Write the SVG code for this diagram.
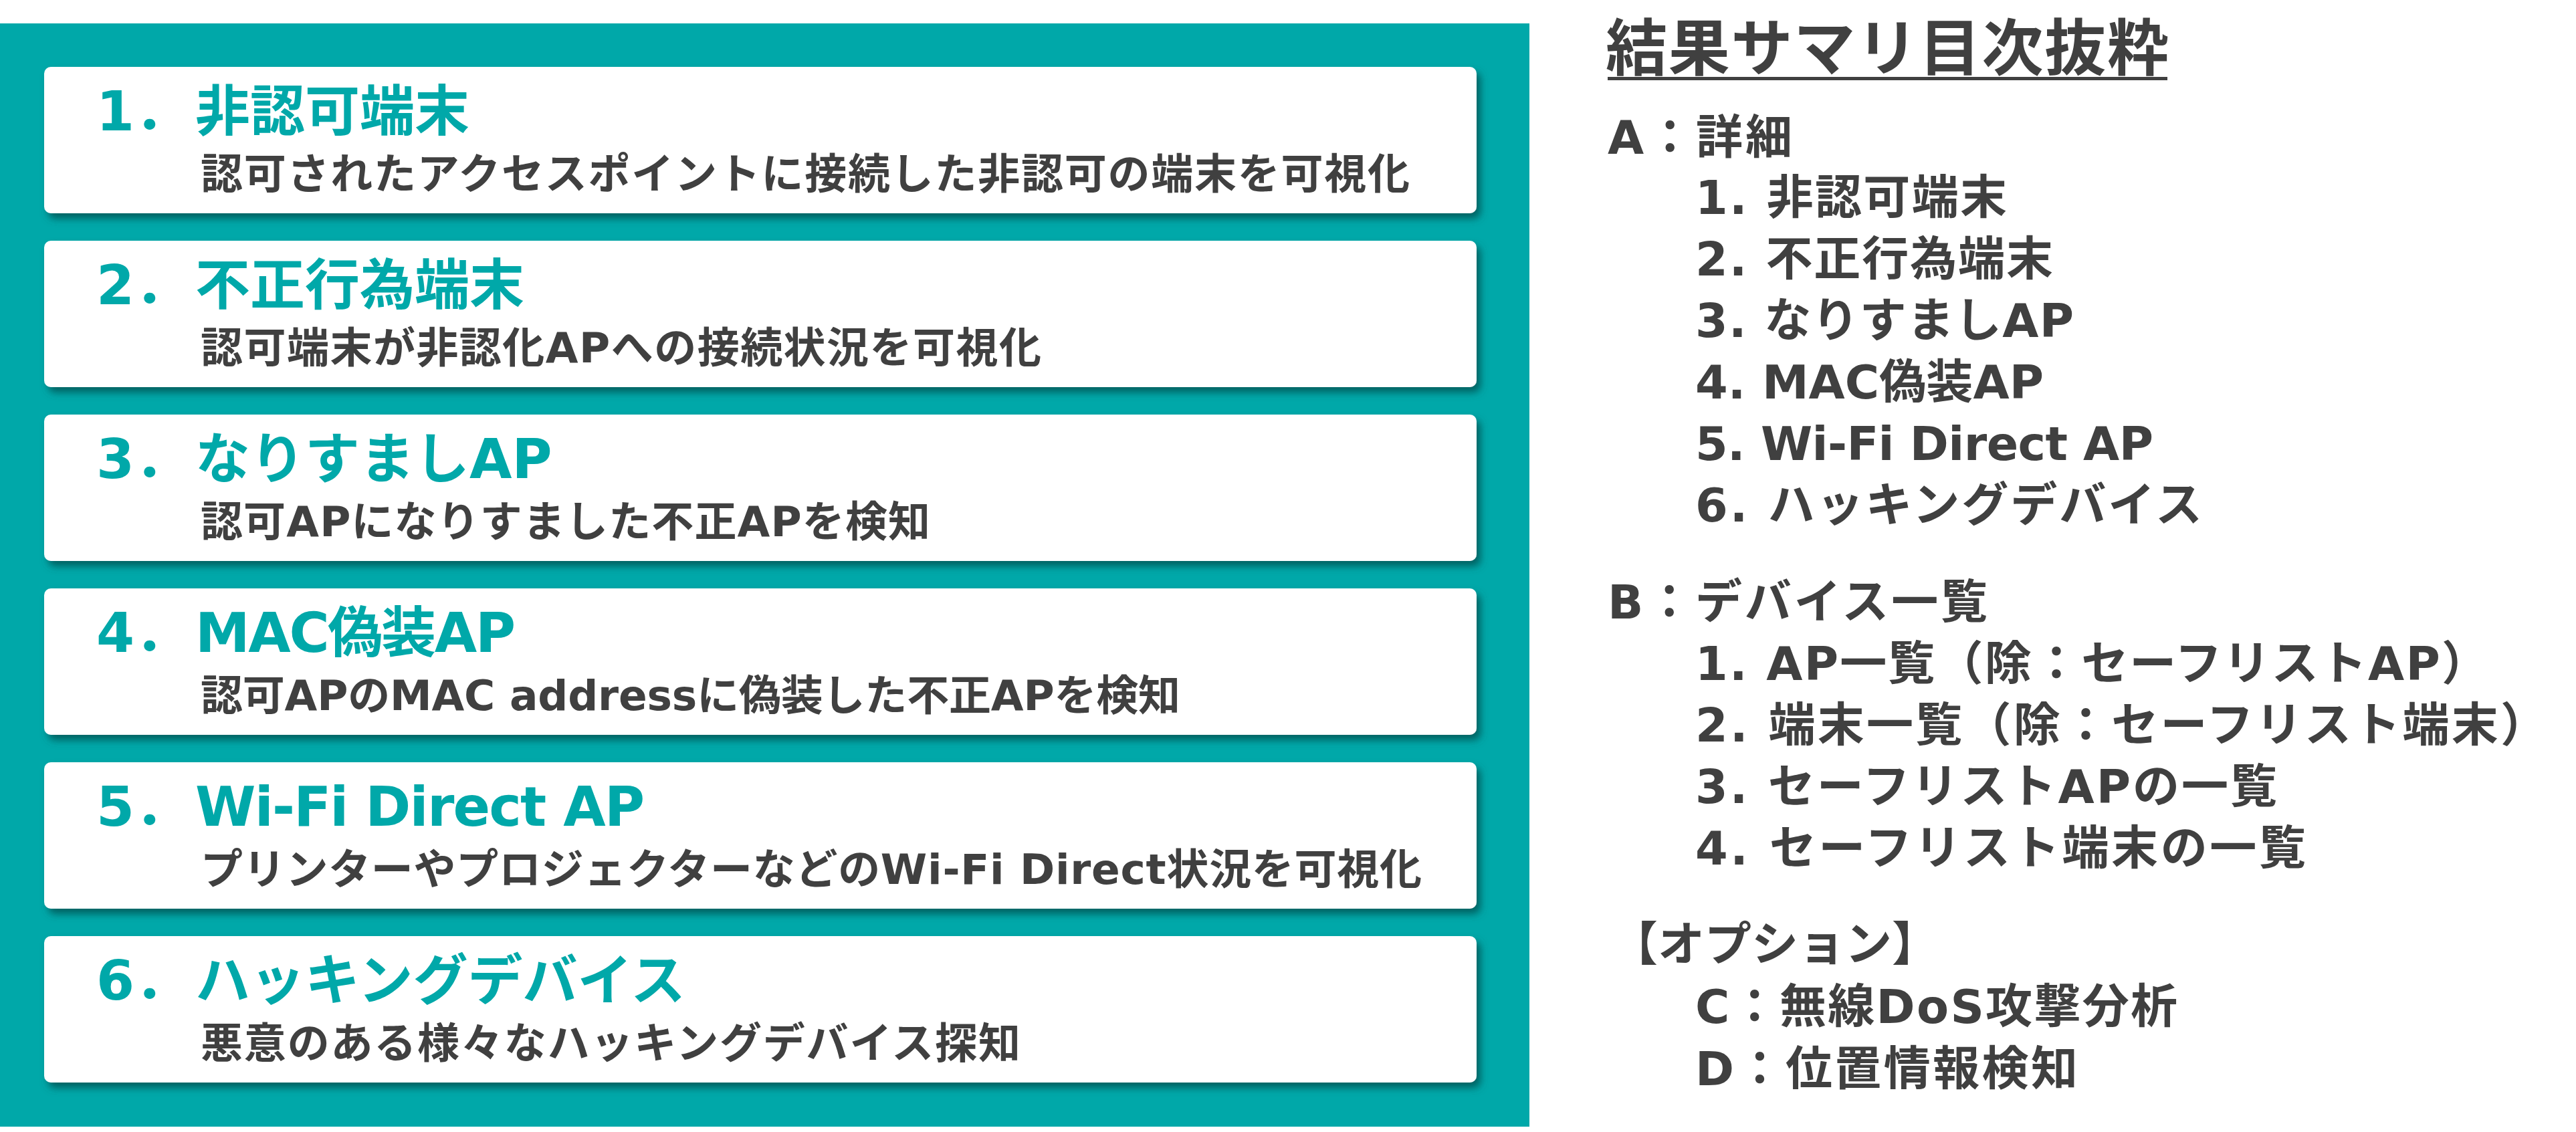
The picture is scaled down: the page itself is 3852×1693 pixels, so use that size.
<svg xmlns="http://www.w3.org/2000/svg" width="3852" height="1693" viewBox="0 0 3852 1693">
<defs>
<filter id="sh" x="-5%" y="-20%" width="110%" height="150%">
<feDropShadow dx="6" dy="8" stdDeviation="6" flood-color="#004c4c" flood-opacity="0.75"/>
</filter>
<style>
text{font-family:'DejaVu Sans','Noto Sans CJK JP',sans-serif;font-weight:bold}
.card{fill:#ffffff;filter:url(#sh)}
.ti{fill:#00A8A9;font-size:82px}
.sub{fill:#404040;font-size:63px}
.r{fill:#404040;font-size:70px}
.rt{fill:#404040;font-size:92px}
</style>
</defs>
<rect width="3852" height="1693" fill="#ffffff"/>
<rect x="0" y="35" width="2287" height="1650" fill="#00A8A9"/>
<g id="card1">
<rect class="card" x="66" y="100" width="2142" height="219" rx="10"/>
<text class="ti" x="144" y="195">1．</text>
<text class="ti" x="292" y="195">非認可端末</text>
<text class="sub" x="300" y="282" textLength="1808" lengthAdjust="spacing">認可されたアクセスポイントに接続した非認可の端末を可視化</text>
</g>
<g id="card2">
<rect class="card" x="66" y="360" width="2142" height="219" rx="10"/>
<text class="ti" x="144" y="455">2．</text>
<text class="ti" x="292" y="455">不正行為端末</text>
<text class="sub" x="300" y="542" textLength="1257" lengthAdjust="spacing">認可端末が非認化APへの接続状況を可視化</text>
</g>
<g id="card3">
<rect class="card" x="66" y="620" width="2142" height="219" rx="10"/>
<text class="ti" x="144" y="715">3．</text>
<text class="ti" x="292" y="715">なりすましAP</text>
<text class="sub" x="300" y="802" textLength="1091" lengthAdjust="spacing">認可APになりすました不正APを検知</text>
</g>
<g id="card4">
<rect class="card" x="66" y="880" width="2142" height="219" rx="10"/>
<text class="ti" x="144" y="975">4．</text>
<text class="ti" x="292" y="975" textLength="479" lengthAdjust="spacing">MAC偽装AP</text>
<text class="sub" x="300" y="1062" textLength="1465" lengthAdjust="spacing">認可APのMAC addressに偽装した不正APを検知</text>
</g>
<g id="card5">
<rect class="card" x="66" y="1140" width="2142" height="219" rx="10"/>
<text class="ti" x="144" y="1235">5．</text>
<text class="ti" x="292" y="1235" textLength="672" lengthAdjust="spacing">Wi-Fi Direct AP</text>
<text class="sub" x="300" y="1322" textLength="1826" lengthAdjust="spacing">プリンターやプロジェクターなどのWi-Fi Direct状況を可視化</text>
</g>
<g id="card6">
<rect class="card" x="66" y="1400" width="2142" height="219" rx="10"/>
<text class="ti" x="144" y="1495">6．</text>
<text class="ti" x="292" y="1495">ハッキングデバイス</text>
<text class="sub" x="300" y="1582" textLength="1226" lengthAdjust="spacing">悪意のある様々なハッキングデバイス探知</text>
</g>
<g id="summary">
<text class="rt" x="2401" y="105" textLength="842" lengthAdjust="spacing">結果サマリ目次抜粋</text>
<rect x="2404" y="115" width="837" height="5" fill="#404040"/>
<text class="r" x="2404" y="230" textLength="276" lengthAdjust="spacing">A：詳細</text>
<text class="r" x="2535" y="320" textLength="466" lengthAdjust="spacing">1. 非認可端末</text>
<text class="r" x="2535" y="412" textLength="535" lengthAdjust="spacing">2. 不正行為端末</text>
<text class="r" x="2535" y="504" textLength="566" lengthAdjust="spacing">3. なりすましAP</text>
<text class="r" x="2535" y="596" textLength="521" lengthAdjust="spacing">4. MAC偽装AP</text>
<text class="r" x="2535" y="688" textLength="685" lengthAdjust="spacing">5. Wi-Fi Direct AP</text>
<text class="r" x="2535" y="780" textLength="758" lengthAdjust="spacing">6. ハッキングデバイス</text>
<text class="r" x="2404" y="925" textLength="568" lengthAdjust="spacing">B：デバイス一覧</text>
<text class="r" x="2535" y="1017" textLength="1186" lengthAdjust="spacing">1. AP一覧（除：セーフリストAP）</text>
<text class="r" x="2535" y="1109" textLength="1274" lengthAdjust="spacing">2. 端末一覧（除：セーフリスト端末）</text>
<text class="r" x="2535" y="1201" textLength="870" lengthAdjust="spacing">3. セーフリストAPの一覧</text>
<text class="r" x="2535" y="1293" textLength="913" lengthAdjust="spacing">4. セーフリスト端末の一覧</text>
<text class="r" x="2409" y="1437">【オプション】</text>
<text class="r" x="2535" y="1530" textLength="721" lengthAdjust="spacing">C：無線DoS攻撃分析</text>
<text class="r" x="2535" y="1623" textLength="572" lengthAdjust="spacing">D：位置情報検知</text>
</g>
</svg>
